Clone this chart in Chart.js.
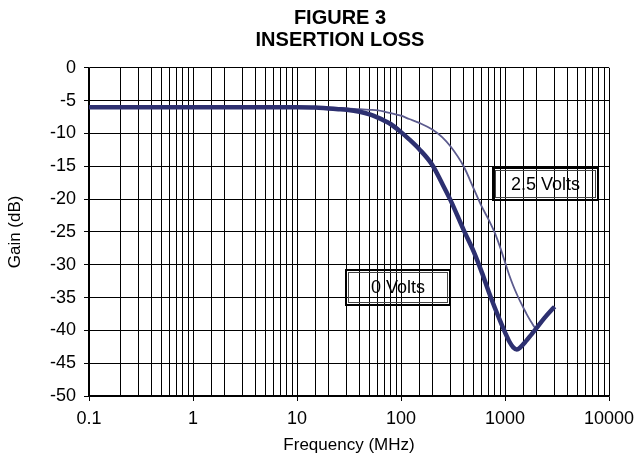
<!DOCTYPE html>
<html>
<head>
<meta charset="utf-8">
<script src="https://cdn.jsdelivr.net/npm/chart.js@4.4.1/dist/chart.umd.min.js"></script>
<style>
  html, body { margin: 0; padding: 0; background: #fff; }
  #wrap { width: 642px; height: 463px; }
</style>
</head>
<body>
<div id="wrap"><canvas id="c" width="642" height="463"></canvas></div>
<script>
// ---- data ----
const titleLines = ["FIGURE 3", "INSERTION LOSS"];
const freqMHz = [0.1, 1, 10, 15, 20, 25, 30, 40, 50, 60, 70, 80, 100, 120, 150, 200, 250, 300, 400, 500, 600, 700, 800, 900, 1000, 1100, 1200, 1300, 1400, 1600, 1800, 2000, 2400, 2800, 3000];
const gain0V  = [-6, -6, -6, -6.05, -6.2, -6.3, -6.4, -6.7, -7.1, -7.6, -8.1, -8.6, -9.8, -10.9, -12.4, -14.8, -17.7, -20.2, -24.7, -28.0, -31.2, -34.2, -36.6, -38.6, -40.3, -41.7, -42.6, -42.9, -42.6, -41.6, -40.6, -39.7, -38.1, -36.9, -36.4];
const gain25V = [-6, -6, -6, -6, -6.05, -6.1, -6.2, -6.3, -6.4, -6.5, -6.7, -6.9, -7.3, -7.8, -8.4, -9.4, -10.6, -12.0, -15.0, -18.4, -21.2, -23.2, -25.2, -27.4, -29.6, -31.6, -33.2, -34.5, -35.6, -37.4, -38.8, -39.7, -38.1, -36.9, -36.4];
const xAxisTitle = "Frequency (MHz)";
const yAxisTitle = "Gain (dB)";
const labelTexts = ["2.5 Volts", "0 Volts"];
// label boxes in data coordinates: [xMin, xMax, yTop, yBottom]
const labelBoxes = [[767, 7830, -15.2, -20.1], [29.6, 296, -30.8, -36.1]];

const FONT = "'Liberation Sans', Arial, sans-serif";

const boxPlugin = {
  id: 'labelBoxes',
  afterDatasetsDraw(chart) {
    const {ctx, scales: {x, y}} = chart;
    ctx.save();
    labelBoxes.forEach((b, i) => {
      const x1 = Math.round(x.getPixelForValue(b[0])), x2 = Math.round(x.getPixelForValue(b[1]));
      const y1 = Math.round(y.getPixelForValue(b[2])), y2 = Math.round(y.getPixelForValue(b[3]));
      ctx.strokeStyle = '#000';
      ctx.lineWidth = 2;
      ctx.strokeRect(x1, y1, x2 - x1, y2 - y1);
      ctx.lineWidth = 1;
      ctx.strokeStyle = '#444';
      ctx.strokeRect(x1 + 2.5, y1 + 2.5, x2 - x1 - 5, y2 - y1 - 5);
      ctx.fillStyle = '#000';
      ctx.font = '18px ' + FONT;
      ctx.textAlign = 'center';
      ctx.textBaseline = 'middle';
      ctx.fillText(labelTexts[i], (x1 + x2) / 2, (y1 + y2) / 2 + 1);
    });
    ctx.restore();
  }
};

function isDecade(v) {
  const l = Math.log10(v);
  return Math.abs(l - Math.round(l)) < 1e-6;
}

new Chart(document.getElementById('c'), {
  type: 'line',
  data: {
    datasets: [
      {
        label: '0 Volts',
        data: freqMHz.map((f, i) => ({x: f, y: gain0V[i]})),
        borderColor: '#2d3070',
        borderWidth: 4.5,
        pointRadius: 0,
        cubicInterpolationMode: 'monotone',
        fill: false
      },
      {
        label: '2.5 Volts',
        data: freqMHz.map((f, i) => ({x: f, y: gain25V[i]})),
        borderColor: '#5c5b8e',
        borderWidth: 1.8,
        pointRadius: 0,
        cubicInterpolationMode: 'monotone',
        fill: false
      }
    ]
  },
  options: {
    responsive: false,
    animation: false,
    devicePixelRatio: 1,
    layout: { padding: { left: 38, right: 0, top: 0, bottom: 0 } },
    plugins: {
      legend: { display: false },
      tooltip: { enabled: false },
      title: {
        display: true,
        text: titleLines,
        color: '#000',
        font: { family: FONT, size: 20, weight: 'bold', lineHeight: 1.12 },
        padding: { top: 7, bottom: 16 }
      }
    },
    scales: {
      x: {
        type: 'logarithmic',
        min: 0.1,
        max: 10000,
        afterFit(scale) { scale.height = 67; },
        grid: {
          color: '#000',
          lineWidth: 1,
          tickLength: 5,
          tickColor: (ctx) => (ctx.tick && isDecade(ctx.tick.value)) ? '#000' : 'rgba(0,0,0,0)'
        },
        border: { color: '#000', width: 1.5 },
        ticks: {
          autoSkip: false,
          maxRotation: 0,
          color: '#000',
          padding: 7,
          font: { family: FONT, size: 18 },
          callback: (v) => isDecade(v) ? String(Math.round(v * 10) / 10) : ''
        },
        title: {
          display: true,
          text: xAxisTitle,
          color: '#000',
          font: { family: FONT, size: 17 },
          padding: { top: 0, bottom: 7 }
        }
      },
      y: {
        min: -50,
        max: 0,
        afterFit(scale) { scale.width = 51; },
        grid: { color: '#000', lineWidth: 1, tickLength: 5 },
        border: { color: '#000', width: 1.5 },
        ticks: {
          stepSize: 5,
          color: '#000',
          padding: 8,
          font: { family: FONT, size: 18 },
          callback: (v) => String(v)
        },
        title: {
          display: true,
          text: yAxisTitle,
          color: '#000',
          font: { family: FONT, size: 17 },
          padding: { top: -33, bottom: 0 }
        }
      },
      yRight: {
        position: 'right',
        display: true,
        afterFit(scale) { scale.width = 33; },
        grid: { display: false, drawTicks: false },
        border: { display: false },
        ticks: { display: false }
      }
    }
  },
  plugins: [boxPlugin]
});
</script>
</body>
</html>
